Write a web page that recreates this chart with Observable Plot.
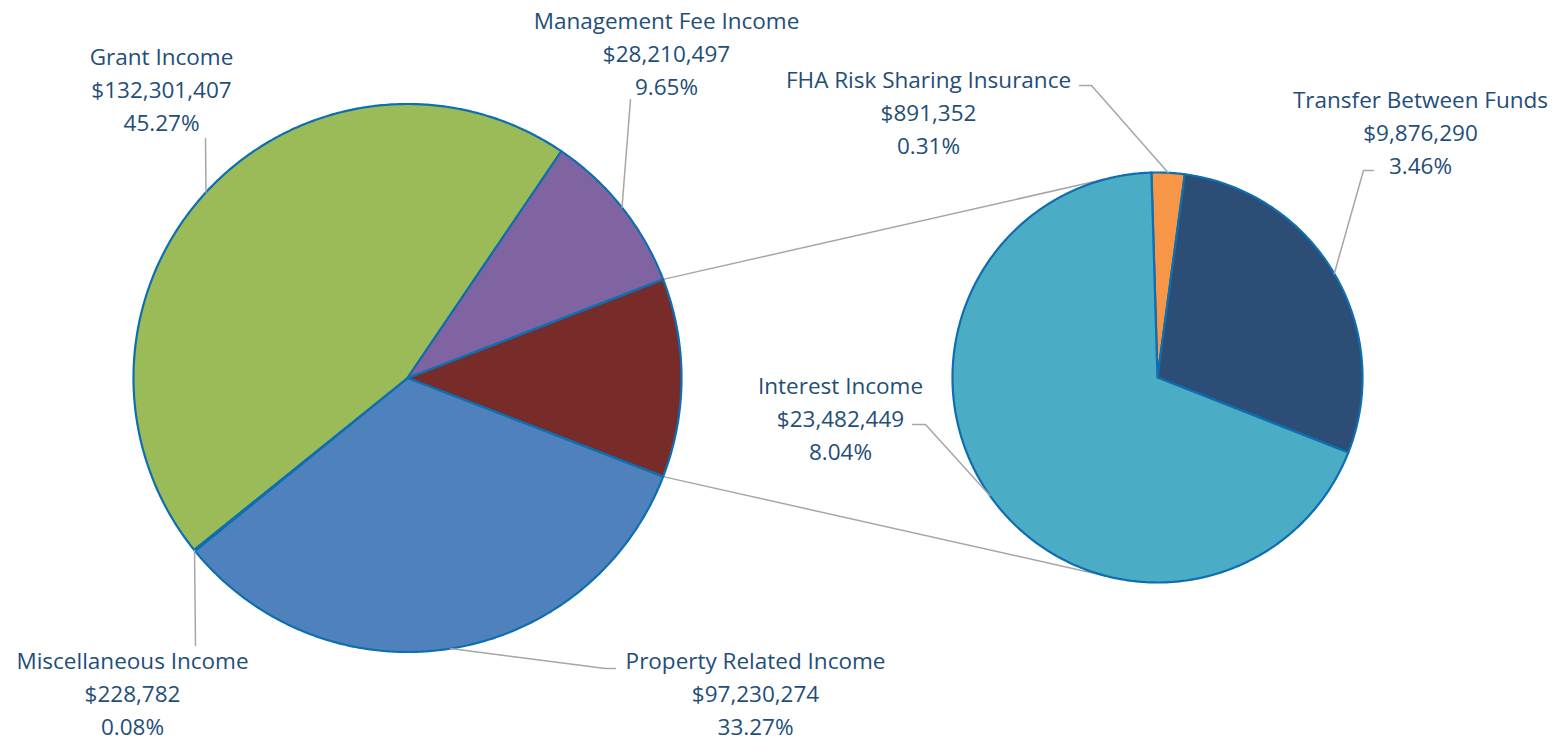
<!DOCTYPE html>
<html><head><meta charset="utf-8">
<script src="https://cdn.jsdelivr.net/npm/d3@7"></script>
<script src="https://cdn.jsdelivr.net/npm/@observablehq/plot@0.6"></script>
<style>body{margin:0;background:#fff}</style>
</head><body><div id="chart"></div>
<script>
// ---- data ----
const mainCategories = ["Other", "Property Related Income", "Miscellaneous Income", "Grant Income", "Management Fee Income"];
const mainValuesKnown = [null, 97230274, 228782, 132301407, 28210497];
const mainPctLabels = [null, "33.27%", "0.08%", "45.27%", "9.65%"];
const mainColors = ["#772C2A", "#4F81BD", "#C0504D", "#9BBB59", "#8064A2"];
const subCategories = ["FHA Risk Sharing Insurance", "Transfer Between Funds", "Interest Income"];
const subValues = [891352, 9876290, 23482449];
const subPctLabels = ["0.31%", "3.46%", "8.04%"];
const subColors = ["#F79646", "#2C4D75", "#4BACC6"];

// ---- layout ----
const W = 1559, H = 742;
const mainPie = {cx: 407, cy: 377.5, r: 274};
const subPie = {cx: 1157, cy: 377, r: 205, start: -1.7 * Math.PI / 180};
const labelLayout = {
  "Grant Income": {x: 161, y: 87, path: [[205, 138]]},
  "Management Fee Income": {x: 666, y: 51, path: [[630, 99]]},
  "FHA Risk Sharing Insurance": {x: 928, y: 110, path: [[1091, 85], [1079, 85]]},
  "Transfer Between Funds": {x: 1420, y: 130, path: [[1363, 170], [1373, 170]]},
  "Interest Income": {x: 840, y: 416, path: [[925, 424], [912, 424]]},
  "Miscellaneous Income": {x: 132, y: 691, path: [[195, 645]]},
  "Property Related Income": {x: 755, y: 691, path: [[605, 668], [615, 668]]}
};

const otherValue = d3.sum(subValues);
const mainValues = mainValuesKnown.map(v => v == null ? otherValue : v);
const total = d3.sum(mainValues);

const pt = (p, a, r = p.r) => ({x: p.cx + r * Math.sin(a), y: p.cy - r * Math.cos(a)});

function slicePoly(p, id, a0, a1, color) {
  const pts = [{id, color, ...pt(p, 0, 0)}];
  const n = Math.max(2, Math.ceil((a1 - a0) / (Math.PI / 360)));
  for (let i = 0; i <= n; i++) pts.push({id, color, ...pt(p, a0 + (a1 - a0) * i / n)});
  pts.push({id, color, ...pt(p, 0, 0)});
  return pts;
}

const otherAngle = otherValue / total * 2 * Math.PI;
const mainStart = Math.PI / 2 - otherAngle / 2;
const mainArcs = d3.pie().sort(null).value(d => d.value).startAngle(mainStart).endAngle(mainStart + 2 * Math.PI)(
  mainCategories.map((c, i) => ({name: c, value: mainValues[i], pct: mainPctLabels[i], color: mainColors[i]})));
const subArcs = d3.pie().sort(null).value(d => d.value).startAngle(subPie.start).endAngle(subPie.start + 2 * Math.PI)(
  subCategories.map((c, i) => ({name: c, value: subValues[i], pct: subPctLabels[i], color: subColors[i]})));

const mainSlices = mainArcs.flatMap(a => slicePoly(mainPie, a.data.name, a.startAngle, a.endAngle, a.data.color));
const subSlices = subArcs.flatMap(a => slicePoly(subPie, a.data.name, a.startAngle, a.endAngle, a.data.color));

// tangent lines from the "Other" slice edges to the secondary pie
function tangent(P, C, r, side) {
  const dx = C.x - P.x, dy = C.y - P.y, d = Math.hypot(dx, dy);
  const base = Math.atan2(dy, dx), off = Math.asin(r / d), len = Math.sqrt(d * d - r * r);
  const ang = base + side * off;
  return {x: P.x + len * Math.cos(ang), y: P.y + len * Math.sin(ang)};
}
const otherArc = mainArcs[0];
const pTop = pt(mainPie, otherArc.startAngle), pBot = pt(mainPie, otherArc.endAngle);
const C2 = {x: subPie.cx, y: subPie.cy};
const connectors = [
  {id: "top", ...pTop}, {id: "top", ...tangent(pTop, C2, subPie.r, -1)},
  {id: "bot", ...pBot}, {id: "bot", ...tangent(pBot, C2, subPie.r, 1)}
];

const labels = [];
const leaders = [];
function addLabel(a, p) {
  const name = a.data.name;
  if (!labelLayout[name]) return;
  const L = labelLayout[name];
  labels.push({x: L.x, y: L.y, text: `${name}\n$${a.data.value.toLocaleString("en-US")}\n${a.data.pct}`});
  const mid = (a.startAngle + a.endAngle) / 2;
  leaders.push({id: name, ...pt(p, mid)});
  L.path.forEach(([x, y]) => leaders.push({id: name, x, y}));
}
mainArcs.forEach(a => addLabel(a, mainPie));
subArcs.forEach(a => addLabel(a, subPie));

const chart = Plot.plot({
  width: W, height: H,
  marginTop: 0, marginRight: 0, marginBottom: 0, marginLeft: 0,
  x: {domain: [0, W], range: [0, W], axis: null},
  y: {domain: [0, H], range: [0, H], axis: null},
  color: {type: "identity"},
  style: {fontFamily: "'Open Sans', sans-serif", background: "#fff"},
  marks: [
    Plot.line(connectors, {x: "x", y: "y", z: "id", stroke: "#A6A6A6", strokeWidth: 1.5}),
    Plot.line(mainSlices, {x: "x", y: "y", z: "id", fill: "color", stroke: "#0E6EB0", strokeWidth: 2.2, strokeLinejoin: "round"}),
    Plot.line(subSlices, {x: "x", y: "y", z: "id", fill: "color", stroke: "#0E6EB0", strokeWidth: 2.2, strokeLinejoin: "round"}),
    Plot.line(leaders, {x: "x", y: "y", z: "id", stroke: "#A6A6A6", strokeWidth: 1.5}),
    Plot.text(labels, {x: "x", y: "y", text: "text", fill: "#1F4E79", fontSize: 22.5, lineHeight: 1.45})
  ]
});
document.getElementById("chart").appendChild(chart);
</script>
</body></html>
